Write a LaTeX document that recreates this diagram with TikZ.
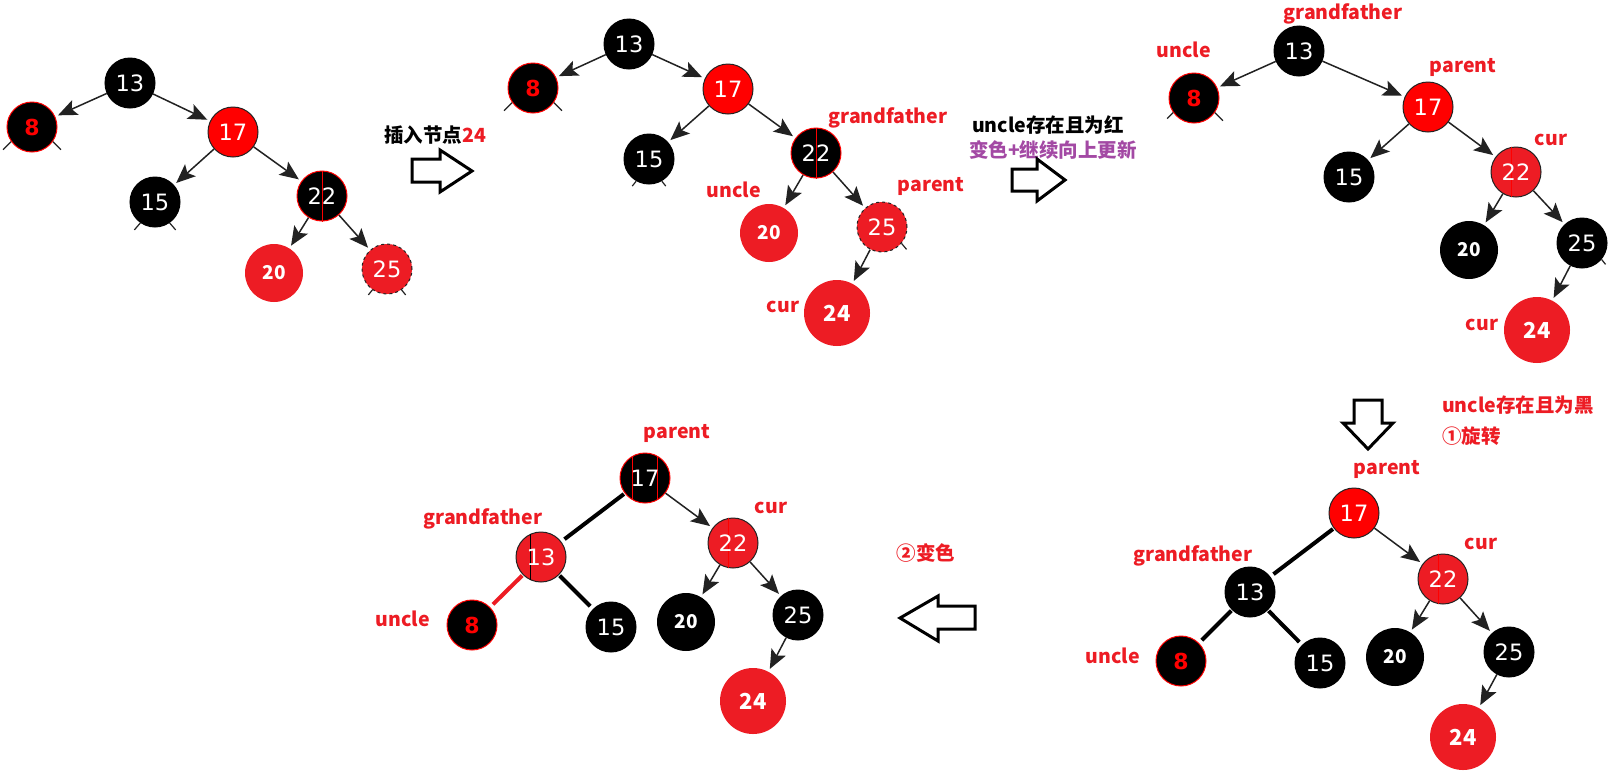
\documentclass[tikz,border=0pt]{standalone}
\usepackage{fontspec}
\usetikzlibrary{arrows.meta}
\newfontfamily\numfont{DejaVu Sans}
\newfontfamily\cjkfont{Noto Sans CJK SC}
\definecolor{rd}{HTML}{ED1C24}
\definecolor{pr}{HTML}{FF0000}
\definecolor{pu}{HTML}{A349A4}
\definecolor{ol}{HTML}{222222}
\begin{document}
\begin{tikzpicture}[x=1pt,y=-1pt,
  nd/.style={circle, inner sep=0pt, minimum size=50pt, font=\numfont\fontsize{22.5}{22.5}\selectfont, text=white, line width=1pt},
  blk/.style={nd, fill=black, draw=black},
  redn/.style={nd, fill=pr, draw=ol},
  blkr/.style={nd, fill=black, draw=pr, text=pr, font=\numfont\bfseries\fontsize{22}{22}\selectfont},
  blkw/.style={nd, fill=black, draw=pr},
  redd/.style={nd, fill=rd, draw=ol, dashed},
  redo/.style={nd, fill=rd, draw=ol},
  bigr/.style={circle, inner sep=0pt, minimum size=58pt, fill=rd, text=white, font=\cjkfont\bfseries\fontsize{19}{19}\selectfont},
  bigb/.style={bigr, fill=black},
  hugr/.style={bigr, minimum size=66pt, font=\cjkfont\bfseries\fontsize{22}{22}\selectfont},
  lbl/.style={font=\cjkfont\bfseries\fontsize{19.5}{20}\selectfont, text=rd, inner sep=0pt},
  numt/.style={text=white, font=\numfont\fontsize{22.5}{22.5}\selectfont},
  arr/.style={draw=ol, line width=1.5pt, -{Stealth[length=19pt,width=16pt,inset=4pt]}, shorten >=3pt},
  thk/.style={line width=4pt, shorten <=1pt, shorten >=4pt},
  stub/.style={draw=ol, line width=1.2pt},
  vline/.style={draw=pr, line width=1pt},
  bigarrow/.style={draw=black, line width=3pt, fill=white, line join=miter},
]
\useasboundingbox (0,0) rectangle (1613,774);
\fill[white] (0,0) rectangle (1613,774);

% ---------------- tree 1 ----------------
\node[blk]  (a13) at (130,83)  {13};
\node[blkr] (a8)  at (32,127)  {8};
\node[redn] (a17) at (233,132) {17};
\node[blk]  (a15) at (155,202) {15};
\node[blkw] (a22) at (322,196) {};
\draw[vline] (a22.north) -- (a22.south);
\node[numt] (a22t) at (a22) {22};
\node[bigr] (a20) at (274,273) {20};
\node[redd] (a25) at (387,269) {25};
\draw[arr] (a13) -- (a8);
\draw[arr] (a13) -- (a17);
\draw[arr] (a17) -- (a15);
\draw[arr] (a17) -- (a22);
\draw[arr] (a22) -- (a20);
\draw[arr] (a22) -- (a25);
\draw[stub] (a8.215) -- ++(-8,8);  \draw[stub] (a8.-35) -- ++(8,8);
\draw[stub] (a15.235) -- ++(-6,7); \draw[stub] (a15.-55) -- ++(6,7);
\draw[stub] (a25.235) -- ++(-4,5); \draw[stub] (a25.-55) -- ++(4,5);

% arrow 1
\node[lbl, text=black] (t1) at (435,135) {插入节点\textcolor{rd}{24}};
\draw[bigarrow] (412,159) -- (440,159) -- (440,150) -- (472,171) -- (440,192) -- (440,182) -- (412,182) -- cycle;

% ---------------- tree 2 ----------------
\node[blk]  (b13) at (629,44)  {13};
\node[blkr] (b8)  at (533,88)  {8};
\node[redn] (b17) at (728,89)  {17};
\node[blk]  (b15) at (649,159) {15};
\node[blkw] (b22) at (816,153) {};
\draw[vline] (b22.north) -- (b22.south);
\node[numt] (b22t) at (b22) {22};
\node[bigr] (b20) at (769,233) {20};
\node[redd] (b25) at (882,227) {25};
\node[hugr] (b24) at (837,313) {24};
\draw[arr] (b13) -- (b8);
\draw[arr] (b13) -- (b17);
\draw[arr] (b17) -- (b15);
\draw[arr] (b17) -- (b22);
\draw[arr] (b22) -- (b20);
\draw[arr] (b22) -- (b25);
\draw[arr] (b25) -- (b24);
\draw[stub] (b8.215) -- ++(-8,8);  \draw[stub] (b8.-35) -- ++(8,8);
\draw[stub] (b15.240) -- ++(-4,5); \draw[stub] (b15.-60) -- ++(4,5);
\draw[stub] (b25.-40) -- ++(5,6);
\node[lbl] (b22l) at (888,118) {grandfather};
\node[lbl] (b20l) at (734,190) {uncle};
\node[lbl] (b25l) at (931,186) {parent};
\node[lbl] (b24l) at (783,307) {cur};

% arrow 2
\node[lbl, text=black] (t2) at (1048,125) {uncle存在且为红};
\node[lbl, text=pu] (t3) at (1053,150) {变色+继续向上更新};
\draw[bigarrow] (1012,169) -- (1037,169) -- (1037,159) -- (1065,180) -- (1037,201) -- (1037,191) -- (1012,191) -- cycle;

% ---------------- tree 3 ----------------
\node[blk]  (c13) at (1299,51)  {13};
\node[blkr] (c8)  at (1194,98)  {8};
\node[redn] (c17) at (1428,107) {17};
\node[blk]  (c15) at (1349,177) {15};
\node[redo] (c22) at (1516,172) {};
\draw[vline] (c22.100) -- (c22.260);
\node[numt] (c22t) at (c22) {22};
\node[bigb] (c20) at (1469,250) {20};
\node[blk]  (c25) at (1582,243) {25};
\node[hugr] (c24) at (1537,330) {24};
\draw[arr] (c13) -- (c8);
\draw[arr] (c13) -- (c17);
\draw[arr] (c17) -- (c15);
\draw[arr] (c17) -- (c22);
\draw[arr] (c22) -- (c20);
\draw[arr] (c22) -- (c25);
\draw[arr] (c25) -- (c24);
\draw[stub] (c8.215) -- ++(-6,6);  \draw[stub] (c8.-35) -- ++(8,8);
\draw[stub] (c25.-40) -- ++(4,5);
\node[lbl] (c13l) at (1343,14)  {grandfather};
\node[lbl] (c8l)  at (1184,50)  {uncle};
\node[lbl] (c17l) at (1463,67)  {parent};
\node[lbl] (c22l) at (1551,140) {cur};
\node[lbl] (c24l) at (1482,325) {cur};

% down arrow
\draw[bigarrow] (1354,400) -- (1382,400) -- (1382,423) -- (1393,423) -- (1368,449) -- (1343,423) -- (1354,423) -- cycle;
\node[lbl, anchor=west] (t4) at (1442,405) {uncle存在且为黑};
\node[lbl, anchor=west] (t5) at (1442,436) {①旋转};

% ---------------- tree 4 ----------------
\node[redn] (d17) at (1354,513) {17};
\node[blk]  (d13) at (1250,592) {13};
\node[redo] (d22) at (1443,579) {};
\draw[vline] (d22.100) -- (d22.260);
\node[numt] (d22t) at (d22) {22};
\node[blkr] (d8)  at (1181,661) {8};
\node[blk]  (d15) at (1320,663) {15};
\node[bigb] (d20) at (1395,657) {20};
\node[blk]  (d25) at (1509,652) {25};
\node[hugr] (d24) at (1463,737) {24};
\draw[thk, draw=black] (d17) -- (d13);
\draw[thk, draw=black] (d13) -- (d8);
\draw[thk, draw=black] (d13) -- (d15);
\draw[arr] (d17) -- (d22);
\draw[arr] (d22) -- (d20);
\draw[arr] (d22) -- (d25);
\draw[arr] (d25) -- (d24);
\node[lbl] (d17l) at (1387,469) {parent};
\node[lbl] (d13l) at (1193,556) {grandfather};
\node[lbl] (d22l) at (1481,544) {cur};
\node[lbl] (d8l)  at (1113,656) {uncle};

% left arrow
\node[lbl] (t6) at (926,553) {②变色};
\draw[bigarrow] (975,606) -- (938,606) -- (938,596) -- (900,618) -- (938,641) -- (938,629) -- (975,629) -- cycle;

% ---------------- tree 5 ----------------
\node[blkw] (e17) at (645,478) {};
\draw[vline] (e17.120) -- (e17.240);
\draw[vline] (e17.60) -- (e17.300);
\node[numt] (e17t) at (e17) {17};
\node[redo] (e13) at (541,557) {};
\draw[draw=black, line width=1pt] (e13.115) -- (e13.245);
\node[numt] (e13t) at (e13) {13};
\node[redo] (e22) at (733,543) {};
\draw[vline] (e22.100) -- (e22.260);
\node[numt] (e22t) at (e22) {22};
\node[blkr] (e8)  at (472,625) {8};
\node[blk]  (e15) at (611,627) {15};
\node[bigb] (e20) at (686,622) {20};
\node[blk]  (e25) at (798,615) {25};
\node[hugr] (e24) at (753,701) {24};
\draw[thk, draw=black] (e17) -- (e13);
\draw[thk, draw=rd] (e13) -- (e8);
\draw[thk, draw=black] (e13) -- (e15);
\draw[arr] (e17) -- (e22);
\draw[arr] (e22) -- (e20);
\draw[arr] (e22) -- (e25);
\draw[arr] (e25) -- (e24);
\node[lbl] (e17l) at (677,433) {parent};
\node[lbl] (e13l) at (483,519) {grandfather};
\node[lbl] (e8l)  at (403,619) {uncle};
\node[lbl] (e22l) at (771,508) {cur};
\end{tikzpicture}
\end{document}
